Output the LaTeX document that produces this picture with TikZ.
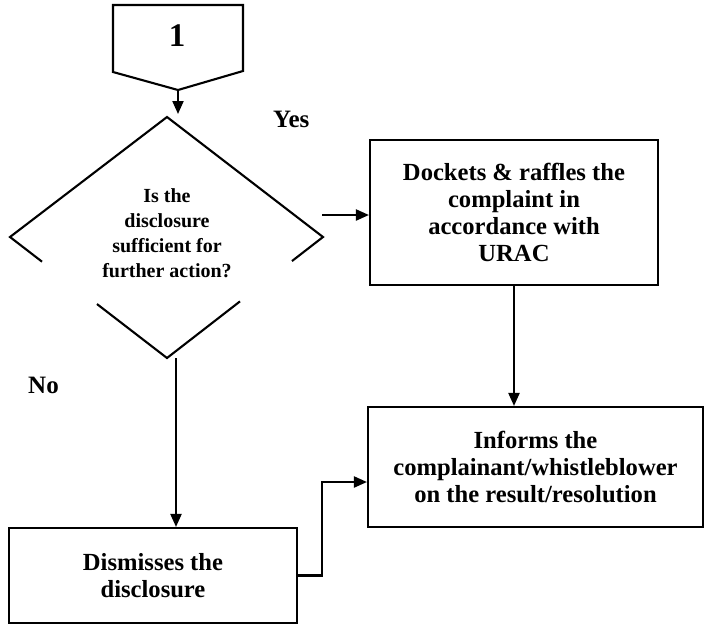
\documentclass[tikz,border=0pt]{standalone}
\usepackage{fontspec}
\setmainfont{Liberation Serif}
\usetikzlibrary{arrows.meta,calc}
\tikzset{
  ln/.style={line width=2.1pt, line join=miter},
  arr/.style={ln, -{Triangle[length=13pt,width=11pt]}},
  boxnode/.style={draw, ln, rectangle, align=center, font=\bfseries\fontsize{24.6}{27}\selectfont, inner sep=2pt},
  lbl/.style={font=\bfseries\fontsize{25}{27}\selectfont, inner sep=0pt},
}
\begin{document}
\begin{tikzpicture}[x=1pt, y=-1pt]
\useasboundingbox (0,0) rectangle (705,625);
% off-page connector
\coordinate (ptip) at (178,90);
\draw[ln] (113,5) -- (243,5) -- (243,71) -- (ptip) -- (113,72) -- cycle;
\node[font=\bfseries\fontsize{33}{33}\selectfont] (one) at (177,36) {1};
% decision diamond (drawn with gaps as printed)
\coordinate (dtop) at (167,117);
\coordinate (dleft) at (10,237);
\coordinate (dright) at (323,237);
\coordinate (dbot) at (167,358);
\draw[ln] ($(dleft)!0.204!(dbot)$) -- (dleft) -- (dtop) -- (dright) -- ($(dright)!0.199!(dbot)$);
\draw[ln] ($(dleft)!0.554!(dbot)$) -- (dbot) -- ($(dright)!0.532!(dbot)$);
\node[align=center, font=\bfseries\fontsize{20}{25}\selectfont, inner sep=0pt] (q) at (167,233)
  {Is the\\disclosure\\sufficient for\\further action?};
% process boxes
\node[boxnode, minimum width=288pt, minimum height=145pt] (dock) at (514,212.5)
  {Dockets \& raffles the\\complaint in\\accordance with\\URAC};
\node[boxnode, minimum width=335pt, minimum height=120pt] (inf) at (535.5,467)
  {Informs the\\complainant/whistleblower\\on the result/resolution};
\node[boxnode, minimum width=288pt, minimum height=95pt] (dis) at (153,575.5)
  {Dismisses the\\disclosure};
% labels
\node[lbl, anchor=base west] (yes) at (273,127) {Yes};
\node[lbl, anchor=base west] (no) at (28,393) {No};
% connectors
\coordinate (tend) at (178,114);
\draw[arr] (ptip) -- (tend);
\coordinate (ystart) at (322,215);
\draw[arr] (ystart) -- (ystart -| dock.west);
\draw[arr] (dock.south) -- (dock.south |- inf.north);
\coordinate (nstart) at (176,358);
\draw[arr] (nstart) -- (nstart |- dis.north);
\coordinate (elbow) at (322,482);
\draw[arr] (dis.east) -| (elbow) -- (elbow -| inf.west);
\end{tikzpicture}
\end{document}
